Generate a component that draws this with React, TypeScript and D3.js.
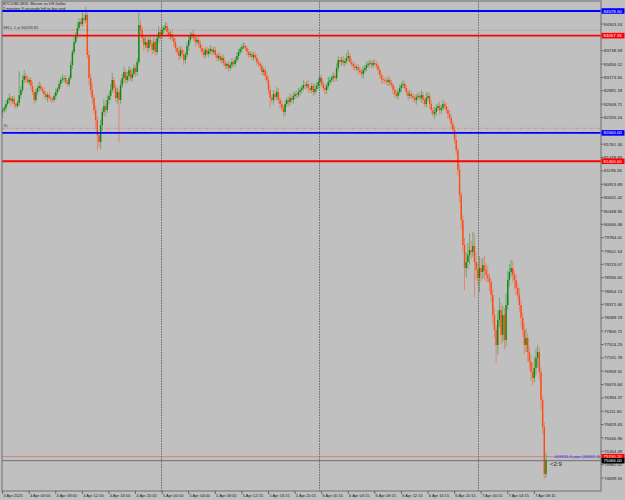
import React, { useEffect } from 'react';
import * as d3 from 'd3';

// ---- data (BTCUSD M15, 4 Apr 2025 00:00 ... 7 Apr 2025 09:xx) ----
const firstOpen = 82442;
const closes = [
  82484, 82527, 82611, 82696, 82738, 82675, 82717, 82611, 82569, 82633,
  82801, 82907, 83119, 83203, 83140, 83077, 83119, 82992, 82865, 82696,
  82865, 82950, 82992, 82929, 82886, 82822, 82759, 82801, 82738, 82717,
  82696, 82780, 82865, 82929, 83034, 83119, 83140, 83161, 83077, 83034,
  83161, 83436, 83712, 83923, 84071, 84219, 84346, 84303, 84431, 84388,
  84494, 83648, 83161, 82907, 82738, 82484, 82273, 81955, 81808, 82167,
  82442, 82569, 82484, 82696, 82780, 82907, 83119, 82950, 82738, 82865,
  82696, 83013, 83161, 83288, 83119, 83203, 83330, 83161, 83245, 83373,
  83288, 83500, 84282, 84177, 84008, 83859, 83923, 83796, 83965, 83880,
  83754, 83923, 83712, 84008, 84135, 84050, 84177, 84219, 84261, 84135,
  84050, 84092, 84008, 83923, 83796, 83712, 83627, 83754, 83669, 83542,
  83648, 83838, 83965, 84071, 84092, 84008, 83923, 83965, 83880, 83796,
  83712, 83648, 83754, 83669, 83733, 83775, 83712, 83754, 83648, 83585,
  83627, 83542, 83585, 83479, 83415, 83457, 83373, 83436, 83500, 83457,
  83542, 83627, 83712, 83775, 83817, 83838, 83796, 83712, 83648, 83669,
  83606, 83648, 83585, 83500, 83457, 83415, 83288, 83330, 83203, 83119,
  82907, 82738, 82696, 82822, 82759, 82865, 82696, 82611, 82527, 82442,
  82611, 82696, 82654, 82738, 82696, 82780, 82822, 82801, 82865, 82907,
  82950, 83013, 82992, 83034, 82950, 82907, 82992, 82865, 82929, 82992,
  83077, 83161, 83034, 82950, 82907, 82992, 83077, 83119, 83161, 83203,
  83161, 83373, 83542, 83500, 83542, 83479, 83521, 83585, 83627, 83500,
  83457, 83415, 83373, 83394, 83330, 83288, 83245, 83330, 83373, 83436,
  83457, 83479, 83436, 83479, 83457, 83415, 83330, 83224, 83140, 83119,
  83098, 83077, 83119, 83056, 83013, 82907, 82822, 82780, 82865, 82950, 83013,
  83034, 82950, 82865, 82780, 82822, 82780, 82738, 82696, 82759, 82780,
  82738, 82801, 82696, 82611, 82738, 82780, 82611, 82484, 82399, 82442,
  82527, 82569, 82484, 82527, 82611, 82569, 82484, 82399, 82315, 82188,
  82061, 81850, 81638, 81215, 80686, 80158, 79629, 79142, 79269, 79417,
  79523, 79481, 79608, 79269, 79100, 78931, 79142, 79058, 79205, 79100,
  78994, 78931, 78846, 78571, 78148, 77830, 77513, 78042, 78254, 77724,
  78148, 77619, 78359, 78888, 79058, 79142, 78994, 78888, 78719, 78571,
  78359, 78085, 77830, 77513, 77661, 77365, 77154, 76942, 76815, 77027,
  77238, 77365, 76942, 76350, 75779, 74784, 75066,
];
const wickUp = [
  60, 40, 80, 50, 100, 40, 60, 80, 40, 60,
  500, 80, 100, 130, 60, 80, 50, 60, 90, 40,
  70, 50, 90, 60, 40, 80, 60, 50, 70, 40,
  50, 60, 80, 40, 70, 60, 90, 50, 60, 40,
  60, 80, 50, 100, 60, 120, 80, 60, 150, 90,
  170, 60, 100, 80, 150, 60, 100, 80, 60, 120,
  80, 150, 60, 100, 80, 120, 150, 60, 80, 100,
  60, 100, 80, 120, 60, 90, 80, 60, 100, 80,
  60, 80, 280, 100, 80, 60, 120, 80, 60, 100,
  80, 100, 60, 80, 120, 60, 80, 60, 85, 60,
  80, 60, 100, 50, 80, 60, 100, 80, 60, 90,
  60, 80, 100, 63, 60, 80, 50, 70, 60, 80,
  60, 80, 50, 70, 60, 80, 50, 60, 80, 50,
  60, 70, 50, 80, 60, 40, 70, 60, 80, 50,
  60, 80, 70, 50, 60, 80, 60, 50, 70, 60,
  50, 70, 60, 80, 50, 60, 70, 50, 60, 80,
  70, 100, 60, 80, 60, 100, 80, 60, 70, 60,
  80, 60, 70, 100, 60, 80, 60, 70, 80, 60,
  60, 100, 70, 60, 80, 60, 70, 60, 100, 80,
  80, 60, 70, 60, 80, 60, 100, 70, 60, 80,
  60, 100, 80, 60, 70, 80, 60, 100, 130, 60,
  70, 60, 80, 50, 60, 70, 60, 80, 60, 70,
  60, 70, 50, 60, 80, 60, 70, 60, 50, 70,
  60, 60, 80, 60, 70, 50, 60, 80, 60, 70, 60,
  80, 60, 70, 60, 80, 60, 50, 70, 60, 80,
  60, 100, 70, 60, 120, 80, 60, 70, 60, 100,
  80, 60, 100, 70, 80, 60, 70, 60, 80, 60,
  60, 80, 100, 60, 120, 80, 100, 150, 200, 250,
  350, 200, 300, 270, 200, 150, 250, 200, 150, 200,
  150, 200, 100, 80, 120, 150, 100, 200, 250, 150,
  200, 150, 250, 200, 170, 170, 150, 100, 120, 100,
  150, 100, 120, 150, 200, 100, 120, 150, 200, 250,
  200, 150, 100, 100, 80, 100, 170,
];
const wickDn = [
  120, 60, 80, 40, 60, 100, 50, 80, 60, 40,
  60, 80, 50, 60, 80, 40, 60, 80, 60, 100,
  50, 60, 80, 40, 60, 80, 60, 100, 60, 80,
  60, 40, 80, 60, 50, 60, 40, 80, 60, 50,
  60, 40, 80, 60, 50, 80, 60, 40, 60, 80,
  60, 80, 150, 100, 120, 80, 150, 320, 100, 150,
  120, 80, 150, 60, 100, 80, 60, 100, 80, 120,
  890, 80, 60, 100, 80, 60, 100, 60, 80, 60,
  100, 80, 60, 100, 80, 120, 60, 100, 80, 60,
  100, 60, 80, 60, 100, 80, 60, 80, 60, 100,
  60, 80, 60, 100, 80, 60, 100, 60, 80, 106,
  80, 60, 100, 60, 80, 60, 100, 60, 80, 60,
  60, 80, 60, 50, 70, 60, 80, 50, 60, 80,
  60, 50, 80, 60, 70, 60, 80, 50, 60, 70,
  60, 50, 70, 60, 80, 50, 60, 70, 60, 50,
  60, 80, 50, 70, 60, 80, 60, 70, 80, 60,
  80, 210, 60, 100, 80, 60, 80, 100, 60, 106,
  80, 60, 100, 70, 60, 80, 60, 70, 60, 80,
  70, 60, 80, 60, 100, 70, 60, 80, 60, 70,
  60, 80, 70, 60, 100, 80, 60, 70, 60, 80,
  80, 60, 70, 60, 80, 60, 70, 60, 80, 60,
  60, 80, 70, 60, 80, 60, 70, 100, 60, 70,
  70, 60, 80, 60, 70, 60, 80, 60, 100, 70,
  60, 60, 80, 70, 60, 100, 80, 60, 70, 60, 80,
  70, 60, 80, 100, 60, 70, 80, 60, 100, 70,
  60, 100, 80, 60, 70, 60, 100, 80, 60, 100,
  80, 60, 100, 80, 60, 70, 80, 100, 60, 80,
  100, 80, 100, 120, 150, 200, 150, 470, 200, 150,
  200, 150, 100, 740, 200, 150, 300, 200, 150, 200,
  150, 100, 200, 150, 200, 150, 380, 200, 150, 200,
  150, 200, 150, 100, 150, 100, 150, 200, 150, 100,
  150, 200, 150, 200, 150, 200, 150, 200, 150, 100,
  150, 200, 150, 200, 150, 100, 85,
];

const timeLabels = [
  '4 Apr 2025', '4 Apr 04:00', '4 Apr 08:00', '4 Apr 12:00', '4 Apr 16:00', '4 Apr 20:00',
  '5 Apr 00:00', '5 Apr 04:00', '5 Apr 08:00', '5 Apr 12:15', '5 Apr 16:15', '5 Apr 20:15',
  '6 Apr 00:15', '6 Apr 04:15', '6 Apr 08:15', '6 Apr 12:15', '6 Apr 16:15', '6 Apr 20:15',
  '7 Apr 00:15', '7 Apr 04:15', '7 Apr 08:15',
];
const barsPerLabel = 16;
const daySeparators = [96, 191, 287];

// visible price scale labels (those under the level tags are hidden in the reference)
const priceLabels = [
  '84303.53', '83738.59', '83456.12', '83173.65', '82891.18', '82608.71',
  '82326.24', '81761.30', '81478.83', '81196.36', '80913.89', '80631.42',
  '80348.95', '80066.48', '79784.01', '79501.54', '79219.07', '78936.60', '78654.13',
  '78371.66', '78089.19', '77806.72', '77524.25', '77241.78', '76959.31', '76676.84',
  '76394.37', '76111.90', '75829.43', '75546.96', '75264.49', '74982.02', '74699.55',
];

const blueLevels = [84578.5, 82000.0];
const redLevels = [84057.33, 81400.0];
const orderLevel = 84176.6;
const orderText = 'SELL 1 at 84098.85';
const slLevel = 82097.0;
const askPrice = 75150.2;
const bidPrice = 75066.0;

const titleText = 'BTCUSD,M15:  Bitcoin vs US Dollar';
const timerText = '2 minutes 9 seconds left to bar end';
const pipsText = '009651.0 pips (60801.3)';
const barTimer = '<2:9';

const W = 625;
const H = 500;
const FONT = 'Liberation Sans, Arial, sans-serif';

export default function App() {
  useEffect(() => {
    document.body.style.margin = '0';
  }, []);

  const left = 2, right = 601, top = 1, bottom = 491;
  const x = d3.scaleLinear().domain([0, 360]).range([2.6, 600.8]);
  const y = d3.scaleLinear().domain([74699.55, 84303.53]).range([478, 24]);

  const candles = closes.map((c, i) => {
    const o = i === 0 ? firstOpen : closes[i - 1];
    return { i, o, c, h: Math.max(o, c) + wickUp[i], l: Math.min(o, c) - wickDn[i] };
  });

  const fmt = d3.format('.2f');
  const tag = (price: number, fill: string, key: string) => (
    <g key={key}>
      <rect x={right + 0.5} y={y(price) - 2.8} width={23} height={5.6} fill={fill} />
      <text x={right + 2.5} y={y(price) + 1.6} fontSize={4.4} fill="#ffffff" fontFamily={FONT}>
        {fmt(price)}
      </text>
    </g>
  );

  return (
    <svg width={W} height={H} style={{ display: 'block', background: '#c0c0c0' }}>
      <rect x={0} y={0} width={W} height={H} fill="#c0c0c0" />
      <defs>
        <clipPath id="plot">
          <rect x={left} y={top} width={right - left} height={bottom - top} />
        </clipPath>
      </defs>

      {daySeparators.map((d) => (
        <line key={'sep' + d} x1={Math.round(x(d)) - 0.5} x2={Math.round(x(d)) - 0.5} y1={top} y2={bottom}
          stroke="#5a5a5a" strokeWidth={0.8} strokeDasharray="1.6,1" />
      ))}

      <line x1={left} x2={right} y1={y(orderLevel)} y2={y(orderLevel)} stroke="#8a8a8a" strokeWidth={0.7} strokeDasharray="1,1" />
      <line x1={left} x2={right} y1={y(slLevel)} y2={y(slLevel)} stroke="#f07070" strokeWidth={0.7} strokeDasharray="3,1.5,1,1.5" />

      <g clipPath="url(#plot)">
        {candles.map((d) => {
          const up = d.c >= d.o;
          const col = up ? '#0a8a0a' : '#ff4a10';
          const cx = x(d.i);
          const y1 = y(Math.max(d.o, d.c));
          const y2 = y(Math.min(d.o, d.c));
          return (
            <g key={d.i}>
              <line x1={cx} x2={cx} y1={y(d.h)} y2={y(d.l)} stroke={col} strokeOpacity={0.45} strokeWidth={1} />
              <rect x={cx - 0.7} y={y1} width={1.4} height={Math.max(0.8, y2 - y1)} fill={col} />
            </g>
          );
        })}
      </g>

      {blueLevels.map((p) => (
        <line key={'b' + p} x1={left} x2={right} y1={y(p)} y2={y(p)} stroke="#0000ff" strokeWidth={1.8} />
      ))}
      {redLevels.map((p) => (
        <line key={'r' + p} x1={left} x2={right} y1={y(p)} y2={y(p)} stroke="#ff0000" strokeWidth={1.8} />
      ))}
      <line x1={left} x2={right} y1={y(askPrice)} y2={y(askPrice)} stroke="#e05050" strokeWidth={0.6} />
      <line x1={left} x2={right} y1={y(bidPrice)} y2={y(bidPrice)} stroke="#5a5a5a" strokeWidth={0.8} />

      <rect x={left} y={top} width={right - left} height={bottom - top} fill="none" stroke="#6e6e6e" strokeWidth={1} />

      {priceLabels.map((s) => {
        const yy = y(parseFloat(s));
        return (
          <g key={s}>
            <line x1={right} x2={right + 2.5} y1={yy} y2={yy} stroke="#303030" strokeWidth={0.6} />
            <text x={right + 3} y={yy + 1.6} fontSize={4.4} fill="#202020" fontFamily={FONT}>{s}</text>
          </g>
        );
      })}

      {blueLevels.map((p) => tag(p, '#0000ff', 'tb' + p))}
      {redLevels.map((p) => tag(p, '#ff0000', 'tr' + p))}
      {tag(askPrice, '#ff0000', 'ask')}
      {tag(bidPrice, '#000000', 'bid')}

      {timeLabels.map((s, k) => {
        const xx = x(k * barsPerLabel);
        return (
          <g key={s}>
            <line x1={xx} x2={xx} y1={bottom} y2={bottom + 3} stroke="#303030" strokeWidth={0.6} />
            <text x={xx + 0.8} y={496.8} fontSize={4} fill="#202020" fontFamily={FONT}>{s}</text>
          </g>
        );
      })}

      <text x={3} y={5.4} fontSize={4} fill="#202020" fontFamily={FONT}>{titleText}</text>
      <text x={3} y={10.2} fontSize={4} fill="#202020" fontFamily={FONT}>{timerText}</text>
      <text x={3} y={28.6} fontSize={4} fill="#404040" fontFamily={FONT}>{orderText}</text>
      <text x={3.5} y={126.5} fontSize={4} fill="#505050" fontFamily={FONT}>SL</text>
      <text x={600} y={y(askPrice) + 1.5} fontSize={4.2} fill="#3030ff" fontFamily={FONT} textAnchor="end">{pipsText}</text>
      <text x={x(closes.length - 1) + 4} y={466} fontSize={6} fill="#202020" fontFamily={FONT}>{barTimer}</text>
    </svg>
  );
}
